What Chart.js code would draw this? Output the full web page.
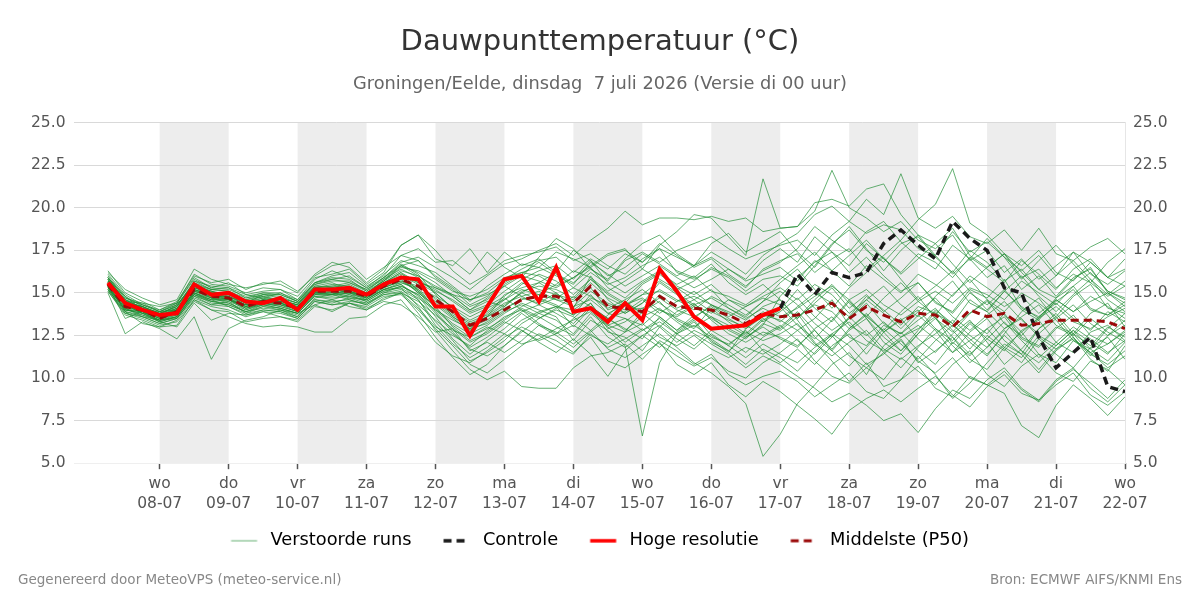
<!DOCTYPE html>
<html>
<head>
<meta charset="utf-8">
<script src="https://cdn.jsdelivr.net/npm/chart.js@4.4.1/dist/chart.umd.min.js"></script>
<style>
html, body { margin: 0; padding: 0; background: #fff; }
#wrap { position: relative; width: 1200px; height: 600px; }
.footer { position: absolute; top: 571px; font: 13.5px "DejaVu Sans", sans-serif; color: #888; }
</style>
</head>
<body>
<div id="wrap">
  <canvas id="js-dauwpuntChart" width="1200" height="600"></canvas>
  <div class="footer" style="left:18px;">Gegenereerd door MeteoVPS (meteo-service.nl)</div>
  <div class="footer" style="right:18px;">Bron: ECMWF AIFS/KNMI Ens</div>
</div>
<script>
// tijdas: eerste punt 07-07 06:00, elke 6 uur (uren t.o.v. 08-07 00:00)
const startHour = -18;
const stepHours = 6;

const dayNames = ["wo", "do", "vr", "za", "zo", "ma", "di", "wo", "do", "vr", "za", "zo", "ma", "di", "wo"];
const dayDates = ["08-07", "09-07", "10-07", "11-07", "12-07", "13-07", "14-07", "15-07", "16-07", "17-07", "18-07", "19-07", "20-07", "21-07", "22-07"];
const shadedDays = [0, 2, 4, 6, 8, 10, 12];

const yTicks = [5.0, 7.5, 10.0, 12.5, 15.0, 17.5, 20.0, 22.5, 25.0];

// hoge resolutie (tot 17-07 00:00)
const hresTemp = [15.6, 14.4, 14.0, 13.7, 13.8, 15.5, 14.9, 15.0, 14.5, 14.4, 14.7, 14.0, 15.2, 15.2, 15.3, 14.9, 15.5,
    15.9, 15.8, 14.2, 14.2, 12.5, 14.2, 15.8, 16.0, 14.5, 16.5, 13.9, 14.1, 13.3, 14.4, 13.4, 16.4, 15.1, 13.6, 12.9, 13.0, 13.1, 13.7, 14.1];

// controle, zichtbaar vanaf 17-07 00:00 (index 39)
const controlStartIndex = 39;
const controlTemp = [14.1, 16.1, 14.9, 16.2, 15.9, 16.2, 17.9, 18.7, 17.8, 17.0, 19.2, 18.2, 17.5, 15.3, 15.0, 12.4, 10.6, 11.5, 12.4, 9.5, 9.2];

// middelste (P50)
const medianTemp = [15.5, 14.2, 14.0, 13.5, 13.9, 15.2, 14.8, 14.7, 14.2, 14.5, 14.4, 14.1, 15.1, 15.1, 15.1, 14.8, 15.4,
    15.8, 15.4, 14.6, 13.9, 13.1, 13.5, 14.0, 14.6, 14.8, 14.8, 14.4, 15.4, 14.2, 14.1, 13.9, 14.8, 14.2, 14.1, 14.0, 13.7, 13.2, 13.8,
    13.6, 13.7, 14.0, 14.4, 13.5, 14.2, 13.7, 13.3, 13.8, 13.7, 13.0, 14.0, 13.6, 13.8, 13.1, 13.2, 13.4, 13.4, 13.4, 13.3, 12.9];

// verstoorde runs
const perturbedRuns = [
  [15.8, 14.6, 14.1, 13.8, 14.2, 15.6, 15.0, 14.9, 14.6, 14.8, 14.5, 14.3, 15.4, 15.6, 15.2, 14.9, 15.8,
   16.4, 15.9, 15.0, 14.1, 12.8, 13.6, 14.9, 15.3, 15.6, 15.0, 14.1, 16.0, 14.6, 13.8, 14.4, 15.6, 14.9, 14.2, 13.5, 12.9, 12.4, 13.1,
   14.8, 15.9, 16.8, 17.4, 16.2, 17.1, 16.0, 15.1, 15.6, 14.4, 13.9, 15.2, 14.7, 15.8, 14.1, 13.6, 14.5, 15.2, 14.0, 13.7, 14.3],
  [15.2, 13.9, 13.6, 13.2, 13.5, 14.8, 14.3, 14.5, 13.8, 14.2, 14.0, 13.6, 14.7, 14.9, 14.6, 14.3, 15.0,
   15.2, 14.6, 13.1, 12.0, 11.2, 11.8, 12.6, 13.4, 13.9, 14.2, 13.0, 14.1, 12.7, 12.4, 11.6, 13.0, 12.1, 12.8, 12.3, 11.6, 10.8, 11.7,
   11.2, 10.4, 11.5, 12.6, 11.9, 10.8, 11.4, 12.3, 10.9, 11.6, 12.4, 11.1, 10.5, 11.8, 12.7, 11.4, 10.9, 12.2, 11.5, 10.6, 11.3],
  [16.1, 14.9, 14.3, 13.9, 14.4, 15.9, 15.3, 15.6, 14.9, 15.1, 15.2, 14.6, 15.8, 16.3, 15.9, 15.3, 16.1,
   16.9, 16.6, 16.2, 15.4, 14.6, 15.0, 15.8, 16.4, 16.9, 17.1, 16.2, 17.0, 16.4, 17.3, 16.8, 17.9, 17.2, 16.5, 17.0, 16.1, 15.4, 16.3,
   16.8, 17.6, 18.9, 18.1, 17.4, 18.6, 19.2, 18.0, 17.1, 16.4, 17.8, 17.0, 15.9, 16.6, 15.2, 16.0, 14.8, 15.9, 16.4, 15.1, 14.6],
  [15.0, 12.6, 13.3, 12.9, 12.3, 13.6, 11.1, 12.9, 13.4, 13.6, 14.0, 13.8, 14.3, 13.9, 14.4, 14.1, 14.6,
   15.0, 14.1, 13.0, 12.5, 11.9, 12.8, 13.6, 14.0, 13.2, 12.6, 13.5, 14.4, 13.1, 12.7, 13.9, 14.5, 13.4, 12.9, 14.1, 13.3, 12.6, 13.5,
   12.9, 13.8, 12.4, 11.6, 12.8, 13.5, 12.1, 11.4, 12.6, 13.9, 12.8, 11.7, 12.9, 13.6, 12.3, 11.8, 12.9, 13.7, 12.5, 12.0, 12.8],
  [15.6, 14.3, 14.2, 13.7, 14.0, 15.3, 15.1, 14.8, 14.4, 14.9, 14.7, 14.4, 15.3, 15.4, 15.6, 15.2, 15.9,
   16.8, 17.1, 16.5, 15.9, 15.2, 16.0, 16.7, 17.0, 17.5, 17.9, 17.2, 18.1, 18.8, 19.8, 19.0, 19.4, 19.4, 19.3, 19.5, 19.2, 19.4, 18.6,
   18.8, 18.9, 20.3, 20.5, 20.1, 21.1, 21.4, 19.6, 18.4, 17.9, 18.8, 17.2, 16.5, 17.3, 15.9, 16.4, 15.3, 16.1, 15.6, 14.8, 15.4],
  [15.3, 14.0, 13.8, 13.3, 13.6, 14.9, 14.5, 14.4, 13.9, 14.3, 14.1, 13.8, 14.8, 14.6, 14.9, 14.5, 15.1,
   15.3, 14.2, 12.8, 11.6, 10.5, 9.9, 10.4, 9.5, 9.4, 9.4, 10.6, 11.3, 11.5, 12.0, 11.1, 12.2, 11.6, 10.8, 11.4, 10.2, 9.6, 10.1,
   10.4, 9.8, 8.9, 9.6, 10.3, 9.2, 8.8, 9.9, 10.7, 9.4, 8.9, 10.1, 9.6, 10.4, 9.3, 8.6, 9.8, 10.5, 9.7, 8.8, 9.9],
  [15.7, 14.4, 13.9, 13.6, 13.8, 15.1, 14.9, 14.6, 14.3, 14.4, 14.5, 14.2, 15.0, 15.2, 15.3, 14.7, 15.5,
   15.9, 15.2, 14.1, 13.2, 12.6, 13.1, 13.8, 14.4, 14.0, 13.6, 12.2, 13.4, 12.8, 11.9, 6.6, 10.9, 12.6, 13.3, 12.1, 11.6, 12.4, 13.0,
   12.3, 11.8, 12.9, 13.6, 12.4, 11.9, 13.1, 12.6, 13.7, 12.8, 11.5, 12.7, 13.5, 12.2, 11.4, 12.9, 13.8, 12.6, 11.9, 13.0, 12.4],
  [15.9, 14.5, 14.4, 13.9, 14.3, 15.5, 15.2, 15.3, 14.7, 15.0, 14.9, 14.5, 15.6, 15.9, 15.8, 15.1, 15.9,
   16.6, 16.9, 15.9, 15.2, 14.3, 14.8, 15.6, 16.2, 16.0, 15.4, 15.9, 16.6, 17.3, 17.6, 16.4, 17.8, 18.6, 19.6, 19.4, 18.3, 17.2, 21.7,
   18.8, 18.9, 19.8, 22.2, 20.0, 19.4, 18.6, 19.2, 18.1, 17.6, 18.4, 16.9, 17.5, 16.2, 17.0, 15.8, 16.6, 17.4, 16.1, 15.5, 16.3],
  [15.4, 14.1, 13.7, 13.4, 13.7, 15.0, 14.6, 14.6, 14.0, 14.4, 14.2, 13.9, 14.9, 14.8, 15.0, 14.6, 15.2,
   15.5, 14.8, 13.6, 12.3, 11.4, 12.2, 12.9, 13.8, 13.1, 12.7, 12.0, 12.8, 11.7, 11.2, 11.9, 12.6, 11.8, 10.9, 10.3, 9.5, 8.5, 5.4,
   6.7, 8.5, 9.6, 10.8, 11.5, 10.2, 11.9, 12.7, 11.6, 10.8, 12.1, 11.3, 12.5, 11.7, 10.9, 12.3, 11.4, 10.6, 11.8, 12.4, 11.1],
  [15.5, 14.2, 14.0, 13.6, 14.1, 15.4, 14.7, 14.8, 14.3, 14.6, 14.6, 14.0, 15.2, 15.3, 15.0, 14.8, 15.6,
   16.2, 15.6, 15.3, 14.8, 14.0, 14.5, 14.2, 15.1, 15.4, 15.2, 14.7, 15.8, 14.9, 14.3, 14.9, 15.1, 14.5, 14.8, 14.3, 13.9, 13.4, 14.2,
   14.6, 13.5, 14.4, 15.3, 14.1, 14.9, 13.9, 14.7, 15.6, 14.5, 13.8, 15.0, 14.3, 15.2, 14.0, 13.4, 14.6, 13.9, 14.8, 14.2, 13.5],
  [16.3, 15.0, 14.5, 14.0, 14.5, 16.0, 15.6, 15.8, 15.2, 15.6, 15.5, 15.0, 16.1, 16.8, 16.5, 15.6, 16.4,
   17.8, 18.4, 17.5, 16.3, 15.5, 16.1, 16.9, 17.2, 17.4, 17.7, 16.9, 17.3, 16.6, 16.1, 17.0, 17.6, 16.2, 15.8, 16.4, 15.9, 15.1, 15.8,
   16.0, 15.4, 16.6, 17.9, 18.7, 17.5, 16.8, 17.9, 18.3, 17.1, 16.2, 17.5, 16.8, 15.7, 16.4, 15.2, 14.7, 15.8, 16.5, 15.0, 14.4],
  [15.1, 13.8, 13.5, 13.1, 13.3, 14.5, 14.0, 13.6, 13.2, 13.0, 13.1, 13.0, 12.7, 12.7, 13.5, 13.6, 14.3,
   14.6, 13.4, 12.1, 11.3, 10.9, 11.6, 12.4, 13.0, 12.5, 11.9, 11.4, 12.6, 11.8, 12.3, 12.9, 12.0, 11.3, 10.7, 11.2, 10.4, 10.0, 10.9,
   11.5, 12.3, 11.0, 10.1, 9.7, 10.6, 9.9, 11.2, 10.4, 9.6, 10.8, 11.6, 10.2, 9.5, 10.7, 11.4, 10.3, 9.8, 11.0, 10.5, 9.6],
  [15.6, 14.3, 14.1, 13.6, 13.8, 15.1, 14.8, 14.6, 14.2, 14.5, 14.3, 14.1, 15.0, 14.9, 15.2, 14.8, 15.3,
   15.7, 15.1, 14.4, 13.6, 13.0, 13.4, 14.2, 15.0, 15.6, 16.2, 15.3, 14.8, 14.1, 14.6, 15.2, 14.4, 13.7, 14.3, 13.8, 14.6, 14.0, 13.3,
   13.9, 14.7, 13.6, 12.8, 13.5, 14.4, 13.2, 12.6, 13.4, 14.1, 13.0, 13.8, 14.5, 13.7, 12.7, 13.5, 14.2, 13.3, 12.9, 13.6, 14.1],
  [15.4, 14.2, 13.9, 13.5, 14.0, 15.2, 14.9, 14.7, 14.1, 14.4, 14.4, 14.2, 15.1, 15.2, 15.0, 14.9, 15.4,
   15.6, 15.3, 14.8, 14.2, 13.6, 14.1, 14.6, 15.2, 14.9, 15.5, 16.3, 15.9, 15.1, 15.7, 16.4, 15.8, 15.2, 15.7, 16.5, 16.0, 15.3, 16.4,
   16.9, 17.3, 16.2, 17.0, 17.6, 16.4, 17.2, 18.1, 19.3, 20.2, 22.3, 19.1, 18.4, 17.3, 16.6, 17.5, 16.2, 15.7, 16.8, 15.9, 16.4],
  [15.2, 13.9, 13.7, 13.3, 13.6, 14.9, 14.4, 14.3, 13.9, 14.1, 14.0, 13.7, 14.6, 14.4, 14.7, 14.4, 14.9,
   15.1, 14.3, 13.4, 12.6, 11.8, 12.4, 13.2, 13.9, 14.3, 13.8, 13.2, 14.2, 13.5, 12.8, 13.6, 14.1, 13.3, 12.6, 12.0, 11.4, 10.6, 11.3,
   10.8, 10.1, 9.4, 8.6, 9.1, 8.4, 7.5, 7.9, 6.8, 8.2, 9.3, 8.8, 9.9, 10.6, 9.4, 8.7, 9.6, 10.3, 9.0, 8.4, 9.2],
  [15.8, 14.5, 14.2, 13.8, 14.1, 15.4, 15.0, 15.0, 14.5, 14.7, 14.6, 14.3, 15.3, 15.5, 15.4, 15.0, 15.6,
   16.1, 15.7, 15.1, 14.6, 13.9, 14.3, 15.1, 15.8, 16.3, 16.6, 15.8, 16.9, 15.6, 15.0, 15.7, 16.3, 15.4, 14.9, 15.5, 14.6, 14.2, 14.8,
   15.3, 14.6, 15.5, 14.9, 13.8, 14.6, 15.4, 14.3, 13.6, 14.8, 15.7, 14.4, 13.9, 15.1, 14.2, 13.5, 14.7, 15.4, 14.1, 13.7, 14.5],
  [15.3, 14.0, 13.9, 13.4, 13.9, 15.2, 14.7, 14.4, 14.0, 14.3, 14.1, 13.8, 14.9, 15.0, 14.7, 14.6, 15.2,
   15.3, 14.7, 14.0, 13.4, 12.9, 13.2, 13.9, 14.3, 13.8, 14.2, 13.7, 14.9, 13.8, 13.5, 13.1, 14.0, 13.5, 13.0, 13.6, 12.8, 12.3, 13.2,
   12.8, 13.6, 14.3, 13.9, 12.9, 13.7, 12.7, 13.4, 14.0, 12.9, 12.2, 13.3, 12.6, 13.8, 12.4, 11.9, 13.0, 12.5, 13.5, 12.7, 12.1],
  [15.5, 14.4, 14.0, 13.5, 13.8, 15.0, 14.6, 14.7, 14.2, 14.6, 14.4, 14.0, 15.0, 14.9, 15.1, 14.7, 15.4,
   15.8, 15.0, 14.2, 13.0, 12.2, 12.7, 13.4, 14.1, 13.6, 13.0, 12.5, 13.6, 12.4, 11.8, 12.5, 13.1, 12.3, 11.7, 12.6, 11.9, 11.2, 12.0,
   11.4, 10.9, 11.8, 12.5, 11.3, 10.6, 11.5, 12.2, 11.0, 10.3, 11.2, 10.0, 9.6, 9.1, 7.2, 6.5, 8.4, 9.6, 8.8, 7.8, 8.9],
  [15.9, 14.7, 14.3, 14.0, 14.4, 15.8, 15.3, 15.2, 14.8, 15.0, 15.0, 14.6, 15.6, 16.0, 16.2, 15.4, 16.0,
   17.2, 16.9, 16.0, 15.3, 14.5, 15.4, 16.1, 16.7, 16.5, 17.4, 17.0, 16.5, 17.2, 17.5, 16.8, 17.6, 17.1, 16.6, 17.4, 16.8, 16.1, 17.2,
   17.9, 18.5, 19.6, 20.1, 19.2, 18.5, 19.0, 18.7, 17.6, 17.2, 18.6, 17.4, 18.0, 17.1, 16.3, 17.2, 16.0, 17.4, 16.8, 15.9, 17.0],
  [15.4, 14.1, 13.9, 13.5, 13.7, 15.1, 14.7, 14.5, 14.1, 14.4, 14.3, 13.9, 15.0, 15.1, 14.9, 14.7, 15.3,
   15.7, 15.4, 14.7, 13.9, 13.3, 13.7, 14.4, 14.8, 15.1, 14.6, 14.2, 15.1, 14.4, 14.0, 14.1, 14.7, 14.0, 13.6, 14.2, 13.5, 12.9, 13.7,
   13.4, 12.8, 13.5, 14.6, 13.1, 12.5, 13.3, 12.4, 12.9, 13.6, 12.0, 13.2, 12.3, 11.6, 12.8, 13.4, 12.1, 11.5, 12.7, 13.1, 12.2],
  [15.7, 14.6, 14.1, 13.7, 14.3, 15.5, 15.1, 14.9, 14.4, 14.5, 14.7, 14.4, 15.4, 15.3, 15.5, 15.0, 15.7,
   16.3, 16.0, 15.4, 14.9, 14.6, 14.9, 15.4, 14.8, 14.3, 14.7, 15.3, 16.2, 15.5, 15.9, 16.6, 17.1, 16.3, 15.9, 16.7, 15.6, 14.9, 15.5,
   14.6, 13.4, 12.1, 11.0, 9.8, 10.9, 9.5, 9.9, 11.3, 10.2, 8.8, 9.7, 10.9, 12.0, 11.4, 10.3, 11.6, 12.4, 11.1, 10.4, 11.9],
  [15.6, 14.2, 14.0, 13.6, 14.0, 15.2, 14.8, 14.8, 14.3, 14.4, 14.5, 14.2, 15.1, 15.0, 15.1, 14.8, 15.5,
   16.0, 15.5, 14.6, 13.8, 13.2, 13.6, 14.1, 14.6, 14.9, 14.6, 14.5, 15.3, 14.0, 14.4, 13.8, 14.9, 14.1, 14.6, 13.9, 13.4, 13.0, 13.9,
   13.3, 14.2, 15.0, 14.4, 13.6, 14.8, 14.0, 13.1, 14.2, 13.8, 13.2, 14.6, 13.9, 12.9, 13.6, 14.3, 13.1, 12.6, 13.8, 14.4, 13.0],
  [16.0, 14.8, 14.2, 13.8, 14.2, 15.7, 15.2, 15.1, 14.6, 14.9, 14.8, 14.4, 15.5, 15.7, 15.7, 15.2, 15.8,
   16.6, 16.2, 15.6, 14.8, 14.0, 14.7, 15.5, 16.1, 16.8, 16.1, 15.6, 16.4, 15.7, 16.9, 17.4, 16.8, 17.5, 17.9, 18.3, 17.6, 17.0, 17.4,
   17.8, 18.1, 17.2, 18.4, 19.2, 20.5, 19.6, 22.0, 19.4, 18.8, 19.5, 18.3, 17.9, 18.7, 17.5, 18.8, 17.3, 16.9, 17.7, 18.2, 17.3],
  [15.3, 14.0, 13.8, 13.4, 13.5, 14.8, 14.5, 14.3, 13.9, 14.2, 14.1, 13.8, 14.8, 14.7, 14.8, 14.5, 15.1,
   15.4, 14.9, 14.0, 13.1, 12.4, 13.0, 12.6, 12.0, 12.3, 12.9, 13.4, 13.9, 13.1, 13.5, 12.8, 13.3, 12.6, 13.1, 12.4, 12.0, 12.7, 12.2,
   12.6, 13.2, 12.0, 11.3, 12.1, 12.8, 11.7, 11.1, 11.9, 12.6, 13.4, 12.5, 11.8, 12.9, 13.5, 12.4, 11.7, 12.3, 11.5, 12.0, 12.7],
  [15.6, 14.3, 14.1, 13.7, 13.9, 15.3, 14.9, 14.8, 14.4, 14.7, 14.4, 14.1, 15.2, 15.1, 15.2, 14.9, 15.5,
   15.9, 15.7, 15.2, 14.5, 13.8, 14.2, 14.8, 15.6, 15.2, 14.9, 14.6, 15.6, 14.7, 14.2, 14.9, 15.7, 15.0, 14.3, 14.7, 14.1, 13.5, 14.1,
   13.6, 14.1, 14.8, 15.4, 14.6, 15.2, 14.3, 13.7, 14.5, 15.1, 14.4, 15.3, 14.9, 14.2, 14.8, 13.8, 14.6, 13.9, 14.5, 15.0, 14.2],
  [15.1, 13.7, 13.4, 13.0, 13.4, 14.6, 14.2, 14.0, 13.6, 13.9, 13.8, 13.5, 14.5, 14.3, 14.4, 14.2, 14.8,
   14.9, 14.0, 12.9, 11.9, 10.8, 10.3, 11.1, 11.9, 12.6, 12.2, 11.5, 12.4, 11.0, 10.6, 11.4, 12.1, 10.8, 10.2, 10.9, 9.6, 8.9, 9.8,
   9.2, 8.4, 7.6, 6.7, 8.1, 8.8, 9.3, 8.6, 9.4, 10.1, 9.0, 8.3, 9.5, 10.2, 9.1, 8.7, 9.9, 10.6, 9.4, 8.6, 9.6],
  [15.8, 14.4, 14.2, 13.8, 14.2, 15.5, 15.0, 14.9, 14.5, 14.8, 14.6, 14.3, 15.3, 15.4, 15.3, 15.0, 15.7,
   16.5, 16.3, 15.8, 15.1, 14.8, 15.2, 15.9, 16.2, 16.5, 16.0, 15.5, 16.8, 16.1, 15.4, 16.0, 16.6, 15.9, 15.3, 15.8, 16.4, 15.7, 16.1,
   16.5, 15.7, 16.9, 16.3, 15.4, 16.6, 15.8, 15.0, 16.1, 15.5, 14.8, 16.0, 15.3, 14.6, 15.7, 15.0, 14.3, 15.4, 16.2, 15.1, 14.7],
  [15.2, 13.8, 13.6, 13.2, 13.5, 14.7, 14.3, 14.2, 13.8, 14.0, 13.9, 13.6, 14.6, 14.5, 14.6, 14.3, 14.9,
   15.0, 14.5, 13.7, 12.9, 12.1, 12.6, 13.3, 12.8, 12.2, 12.6, 13.1, 12.5, 12.0, 12.7, 13.2, 12.4, 11.9, 12.5, 11.7, 11.2, 11.8, 11.4,
   12.0, 12.8, 11.9, 12.6, 13.3, 12.2, 11.6, 12.4, 13.1, 12.3, 11.5, 12.2, 12.9, 11.8, 11.2, 12.5, 11.9, 12.8, 12.1, 11.4, 12.6],
  [15.7, 14.5, 14.0, 13.7, 14.0, 15.3, 15.0, 14.6, 14.2, 14.5, 14.4, 14.1, 15.2, 15.3, 15.1, 14.8, 15.4,
   15.9, 15.0, 14.3, 13.5, 12.8, 13.3, 14.0, 14.7, 14.4, 15.0, 14.2, 14.6, 13.8, 14.3, 14.7, 14.0, 13.6, 14.2, 13.6, 13.1, 12.5, 13.4,
   14.0, 15.2, 14.1, 13.3, 14.5, 13.6, 12.8, 13.9, 14.8, 13.5, 12.7, 13.8, 14.6, 13.2, 12.5, 13.6, 14.4, 13.5, 12.8, 13.9, 13.3],
  [15.9, 14.7, 14.4, 14.2, 14.4, 16.1, 15.5, 15.4, 15.0, 15.3, 15.2, 14.8, 15.9, 16.1, 16.4, 15.5, 16.2,
   17.8, 18.4, 17.0, 16.6, 17.6, 16.2, 17.4, 16.6, 17.0, 16.2, 17.5, 16.9, 16.0, 16.5, 17.3, 16.7, 16.0, 16.6, 17.1, 16.4, 15.8, 16.9,
   17.6, 16.8, 18.3, 17.4, 16.6, 17.9, 17.0, 16.2, 17.3, 16.8, 15.9, 17.1, 16.4, 15.6, 16.9, 16.1, 15.2, 16.4, 17.0, 15.9, 15.4],
  [15.5, 13.9, 13.2, 13.0, 13.1, 14.6, 14.0, 13.9, 13.3, 13.5, 13.6, 13.3, 14.2, 14.0, 14.4, 14.0, 14.7,
   15.0, 13.8, 12.4, 11.2, 10.2, 10.8, 11.9, 12.8, 12.1, 11.5, 12.3, 11.4, 10.1, 11.6, 12.5, 11.8, 12.7, 13.4, 12.2, 11.5, 12.9, 13.6,
   14.2, 13.1, 12.3, 13.4, 14.6, 13.5, 12.4, 11.6, 12.8, 14.0, 13.2, 12.1, 11.3, 12.6, 13.9, 14.7, 13.4, 12.2, 11.7, 12.9, 13.8],
  [16.2, 15.2, 14.7, 14.3, 14.6, 16.4, 15.8, 15.5, 15.3, 15.5, 15.7, 15.1, 16.0, 16.6, 16.8, 15.8, 16.5,
   17.2, 17.6, 16.8, 16.9, 16.1, 17.4, 16.5, 15.9, 17.1, 18.2, 17.6, 16.4, 15.8, 17.0, 17.9, 18.4, 17.3, 16.6, 17.9, 18.5, 17.4, 18.0,
   18.6, 17.4, 16.5, 17.8, 18.9, 17.6, 16.3, 17.5, 18.4, 17.2, 16.1, 17.0, 18.2, 17.1, 15.8, 16.9, 17.8, 16.7, 15.6, 16.8, 17.6],
  [15.4, 13.5, 13.9, 13.3, 13.0, 14.4, 13.4, 13.8, 13.7, 13.9, 13.6, 13.4, 14.3, 14.6, 14.2, 14.0, 14.5,
   14.3, 13.6, 12.7, 12.9, 11.6, 12.1, 11.5, 12.2, 13.1, 12.5, 11.8, 12.7, 13.5, 12.9, 12.3, 13.6, 12.8, 13.7, 12.5, 11.9, 12.8, 11.6,
   10.9, 11.7, 10.8, 11.9, 12.6, 11.4, 12.7, 13.5, 12.3, 11.5, 12.6, 13.4, 12.1, 10.8, 11.7, 12.9, 13.6, 12.4, 11.3, 12.5, 13.1],
  [15.9, 14.8, 14.0, 13.9, 14.0, 15.7, 15.4, 15.3, 14.9, 14.7, 15.0, 14.5, 15.5, 15.8, 16.0, 15.3, 15.9,
   16.7, 16.1, 14.9, 13.6, 12.9, 13.8, 14.6, 15.5, 16.1, 15.7, 14.9, 15.8, 15.0, 14.4, 15.5, 16.1, 15.3, 14.6, 15.2, 14.1, 13.6, 14.5,
   15.6, 16.4, 15.2, 14.1, 15.3, 16.2, 17.1, 15.8, 14.6, 15.4, 16.3, 15.1, 14.0, 15.1, 16.0, 14.8, 13.9, 14.9, 15.8, 14.6, 13.9],
  [15.3, 14.1, 13.6, 13.4, 13.6, 14.9, 14.6, 14.2, 13.7, 14.0, 13.9, 13.5, 14.5, 14.3, 14.5, 14.4, 15.0,
   15.4, 14.9, 13.8, 12.7, 11.7, 11.3, 11.9, 12.7, 13.5, 14.0, 13.6, 12.8, 13.7, 14.5, 13.8, 13.0, 13.9, 14.4, 13.4, 12.6, 12.1, 12.7,
   12.4, 11.9, 12.8, 11.6, 10.7, 11.8, 12.9, 12.0, 11.1, 12.2, 13.1, 12.3, 11.4, 12.5, 11.6, 10.9, 11.9, 12.8, 11.7, 11.0, 12.1],
  [15.6, 14.3, 13.8, 13.7, 14.1, 15.2, 14.9, 14.9, 14.4, 14.6, 14.4, 14.0, 15.1, 15.3, 15.1, 14.8, 15.4,
   16.0, 15.6, 15.0, 14.1, 13.4, 13.9, 14.7, 14.0, 13.5, 14.1, 14.8, 14.2, 13.5, 13.9, 14.6, 13.8, 14.5, 15.1, 14.3, 13.6, 14.2, 14.7,
   14.3, 13.5, 14.6, 15.5, 14.4, 13.6, 14.7, 15.6, 14.5, 13.7, 14.9, 15.8, 14.6, 13.9, 15.0, 14.4, 13.6, 14.8, 15.5, 14.1, 13.8],
  [15.7, 14.5, 14.2, 13.6, 13.9, 15.4, 15.1, 14.7, 14.3, 14.6, 14.5, 14.3, 15.3, 15.2, 15.4, 14.9, 15.6,
   16.2, 15.1, 13.9, 12.8, 12.4, 12.9, 13.5, 14.2, 14.7, 14.3, 13.7, 14.4, 12.9, 13.3, 14.1, 13.6, 12.8, 13.5, 14.3, 13.8, 13.1, 12.5,
   13.1, 12.2, 11.4, 12.4, 13.6, 12.6, 11.5, 10.6, 11.8, 12.9, 11.9, 10.9, 11.8, 12.8, 11.6, 10.5, 11.7, 12.6, 11.4, 10.8, 11.6],
  [15.4, 14.0, 13.9, 13.5, 13.8, 15.0, 14.7, 14.6, 14.1, 14.3, 14.3, 14.0, 15.0, 15.0, 14.8, 14.6, 15.2,
   15.6, 15.2, 14.5, 13.7, 13.1, 13.6, 14.3, 15.0, 14.6, 14.2, 14.0, 14.7, 14.3, 13.8, 14.4, 15.2, 14.6, 14.0, 14.8, 14.3, 13.7, 14.5,
   15.1, 14.3, 13.2, 12.4, 13.5, 14.6, 13.8, 12.9, 13.9, 14.7, 13.6, 12.8, 13.7, 14.5, 13.4, 12.6, 13.5, 14.3, 13.2, 12.5, 13.4],
  [15.5, 14.3, 13.8, 13.4, 13.6, 15.0, 14.5, 14.6, 14.2, 14.4, 14.2, 13.9, 14.9, 14.9, 15.0, 14.7, 15.2,
   15.5, 14.6, 13.3, 12.2, 11.0, 11.5, 12.2, 13.2, 13.8, 13.4, 12.6, 13.8, 13.0, 12.1, 12.8, 13.5, 12.6, 11.9, 12.8, 12.2, 11.5, 12.4,
   13.0, 13.9, 12.8, 11.7, 12.9, 13.8, 12.7, 11.6, 12.6, 13.5, 12.4, 11.4, 12.3, 13.3, 12.2, 11.2, 12.1, 13.0, 12.3, 11.5, 12.2],
  [15.8, 14.6, 14.3, 13.9, 14.3, 15.6, 15.2, 15.1, 14.7, 14.9, 14.9, 14.5, 15.6, 15.8, 15.6, 15.1, 15.7,
   16.6, 16.0, 15.3, 14.9, 14.2, 14.6, 15.4, 16.0, 15.7, 15.3, 15.9, 16.5, 15.3, 14.7, 15.6, 16.2, 15.5, 16.0, 15.1, 14.8, 14.3, 15.0,
   15.8, 16.6, 17.4, 16.3, 17.2, 18.1, 17.0, 16.1, 17.0, 17.9, 16.7, 15.6, 16.5, 17.3, 16.2, 15.2, 16.0, 16.9, 15.8, 14.9, 15.7]
];

const toPoints = (values, offset) => values.map((v, i) => ({ x: startHour + (i + (offset || 0)) * stepHours, y: v }));

// grijze banden voor om-de-dag
const dayBands = {
    id: "dayBands",
    beforeDraw(chart) {
        const ctx = chart.ctx;
        const area = chart.chartArea;
        const xScale = chart.scales.x;
        ctx.save();
        ctx.fillStyle = "#ededed";
        shadedDays.forEach((k) => {
            const x0 = xScale.getPixelForValue(k * 24);
            const x1 = xScale.getPixelForValue((k + 1) * 24);
            ctx.fillRect(x0, area.top, x1 - x0, area.bottom - area.top);
        });
        ctx.restore();
    }
};

// legenda-symbolen hebben links extra ruimte; schuif de legenda terug naar het midden
const sampleGap = 18.5;
const legendShift = {
    id: "legendShift",
    afterLayout(chart) {
        chart.legend.left -= sampleGap / 2;
        chart.legend.right -= sampleGap / 2;
    }
};

const runColor = "rgba(30, 140, 50, 0.68)";

var datasets = [];
perturbedRuns.forEach((run, n) => {
    datasets.push({
        label: n === 0 ? "Verstoorde runs" : "",
        data: toPoints(run),
        borderColor: runColor,
        borderWidth: 1,
        pointRadius: 0,
        order: 3
    });
});
datasets.push({
    label: "Controle",
    data: toPoints(controlTemp, controlStartIndex),
    borderColor: "#1a1a1a",
    borderWidth: 3.5,
    borderDash: [8, 5],
    pointRadius: 0,
    order: 2
});
datasets.push({
    label: "Hoge resolutie",
    data: toPoints(hresTemp),
    borderColor: "#ff0000",
    borderWidth: 4,
    pointRadius: 0,
    order: 0
});
datasets.push({
    label: "Middelste (P50)",
    data: toPoints(medianTemp),
    borderColor: "#9b0a0a",
    borderWidth: 3,
    borderDash: [8, 5],
    pointRadius: 0,
    order: 1
});

// klein lijntje als legenda-symbool
function legendSample(color, width, dash) {
    const c = document.createElement("canvas");
    c.width = 49;
    c.height = 10;
    const g = c.getContext("2d");
    g.strokeStyle = color;
    g.lineWidth = width;
    g.setLineDash(dash);
    g.beginPath();
    g.moveTo(sampleGap, 5);
    g.lineTo(sampleGap + 26, 5);
    g.stroke();
    return c;
}

function legendLabels(chart) {
    var items = [];
    chart.data.datasets.forEach((ds, i) => {
        if (ds.label === "") return;
        items.push({
            text: ds.label,
            datasetIndex: i,
            hidden: false,
            pointStyle: legendSample(ds.borderColor, Math.min(ds.borderWidth, 3.5), ds.borderDash || []),
            fillStyle: "transparent",
            strokeStyle: "transparent",
            lineWidth: 0
        });
    });
    return items;
}

const font = "'DejaVu Sans', sans-serif";
const tickFont = { family: font, size: 15.5, lineHeight: 1.33 };

const ctx = document.getElementById("js-dauwpuntChart");
const dauwpuntChart = new Chart(ctx, {
    type: "line",
    data: { datasets: datasets },
    plugins: [dayBands, legendShift],
    options: {
        responsive: false,
        animation: false,
        layout: { padding: { left: 0, right: 0, top: 0, bottom: 40.3 } },
        elements: { line: { tension: 0 } },
        plugins: {
            title: {
                display: true,
                text: "Dauwpunttemperatuur (°C)",
                color: "#333",
                font: { family: font, size: 29, weight: "normal" },
                padding: { top: 25, bottom: 6 }
            },
            subtitle: {
                display: true,
                text: "Groningen/Eelde, dinsdag  7 juli 2026 (Versie di 00 uur)",
                color: "#666",
                font: { family: font, size: 17.8 },
                padding: { top: 8, bottom: 27.5 }
            },
            legend: {
                position: "bottom",
                labels: {
                    color: "#111",
                    font: { family: font, size: 17.8 },
                    usePointStyle: true,
                    pointStyleWidth: 49,
                    padding: 13.5,
                    generateLabels: legendLabels
                }
            },
            tooltip: { enabled: false }
        },
        scales: {
            x: {
                type: "linear",
                min: -30,
                max: 336,
                afterBuildTicks: (scale) => {
                    scale.ticks = dayDates.map((d, k) => ({ value: k * 24 }));
                },
                ticks: {
                    autoSkip: false,
                    maxRotation: 0,
                    color: "#555",
                    font: tickFont,
                    padding: 4,
                    callback: (value) => [dayNames[value / 24], dayDates[value / 24]]
                },
                grid: { drawOnChartArea: false, tickLength: 6, tickColor: "#555", tickWidth: 1.5 },
                border: { display: false }
            },
            y: {
                min: 5,
                max: 25,
                afterBuildTicks: (scale) => { scale.ticks = yTicks.map((v) => ({ value: v })); },
                afterFit: (scale) => { scale.width = 73.5; },
                ticks: { color: "#555", font: tickFont, padding: 8, callback: (v) => v.toFixed(1) },
                grid: {
                    color: (c) => (c.tick && c.tick.value === 5 ? "#efefef" : "#d9d9d9"),
                    drawTicks: false
                },
                border: { display: false }
            },
            y2: {
                position: "right",
                min: 5,
                max: 25,
                afterBuildTicks: (scale) => { scale.ticks = yTicks.map((v) => ({ value: v })); },
                afterFit: (scale) => { scale.width = 75; },
                ticks: { color: "#555", font: tickFont, padding: 8, callback: (v) => v.toFixed(1) },
                grid: { display: false, drawTicks: false },
                border: { display: true, color: "#e6e6e6" }
            }
        }
    }
});
</script>
</body>
</html>
